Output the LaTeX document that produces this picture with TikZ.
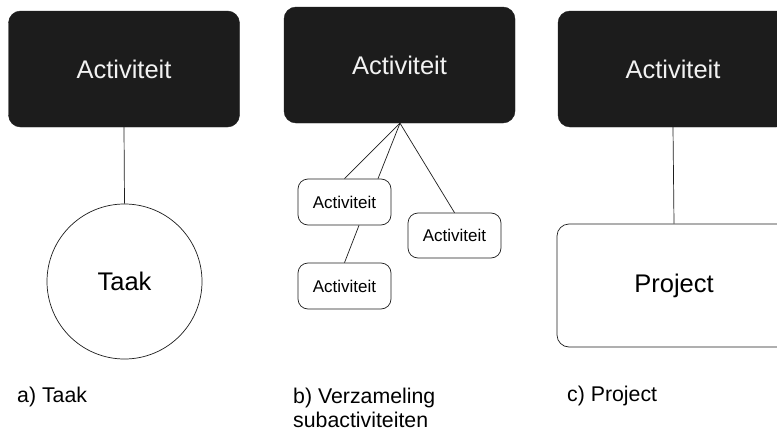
\documentclass[tikz,border=0pt]{standalone}
\usepackage{fontspec}
\setmainfont{Liberation Sans}
\definecolor{boxfill}{RGB}{28,28,28}
\definecolor{boxtext}{RGB}{242,242,242}
\definecolor{edge}{RGB}{30,30,30}
\begin{document}
\begin{tikzpicture}[x=1pt,y=-1pt,
  bigfont/.style={font=\fontsize{25.5}{30}\selectfont},
  smallfont/.style={font=\fontsize{17}{20}\selectfont},
  labelfont/.style={font=\fontsize{21.3}{24}\selectfont},
  parentbox/.style={bigfont, fill=boxfill, draw=boxfill, text=boxtext,
    rounded corners=12pt, inner sep=0pt, minimum width=231pt, minimum height=116pt},
  subbox/.style={smallfont, draw=edge, fill=white, line width=0.7pt,
    rounded corners=10pt, inner sep=0pt, minimum width=93pt, minimum height=46pt},
  taskcircle/.style={bigfont, circle, draw=edge, line width=0.7pt,
    inner sep=0pt, minimum size=155pt},
  projectbox/.style={bigfont, draw=edge, line width=0.7pt,
    rounded corners=12pt, inner sep=0pt, minimum width=234pt, minimum height=123pt},
  link/.style={draw=edge, line width=0.7pt},
  caption/.style={labelfont, anchor=base west, inner sep=0pt, align=left}]
  % canvas
  \path[use as bounding box] (0,0) rectangle (777,431);
  \clip (0,0) rectangle (777,431);
  \fill[white] (0,0) rectangle (777,431);

  % a) task
  \node[parentbox] (actA) at (124,69) {Activiteit};
  \node[taskcircle] (taak) at (124.5,281.5) {Taak};
  \draw[link] (actA.south) -- (taak.north);

  % b) collection of sub-activities
  \node[parentbox] (actB) at (399.5,65) {Activiteit};
  \node[subbox] (sub1) at (344.5,202) {Activiteit};
  \node[subbox, minimum height=45pt] (sub2) at (454.5,235.5) {Activiteit};
  \node[subbox] (sub3) at (344.5,286) {Activiteit};
  \coordinate (apex) at ([xshift=0.5pt]actB.south);
  \draw[link] (apex) -- (sub1.north);
  \draw[link] (apex) -- ([xshift=33.5pt]sub1.north);
  \draw[link] (apex) -- (sub2.north);
  \draw[link] ([xshift=14.5pt]sub1.south) -- (sub3.north);

  % c) project
  \node[parentbox, minimum width=230pt] (actC) at (673,69) {Activiteit};
  \node[projectbox] (proj) at (674,285.5) {Project};
  \draw[link] (actC.south) -- (proj.north);

  % captions (a multi-line node sits on the baseline of its last line)
  \node[caption] (capA) at (17,402) {a) Taak};
  \node[caption] (capB) at (293,427) {b) Verzameling\\subactiviteiten};
  \node[caption] (capC) at (567,401) {c) Project};
\end{tikzpicture}
\end{document}
